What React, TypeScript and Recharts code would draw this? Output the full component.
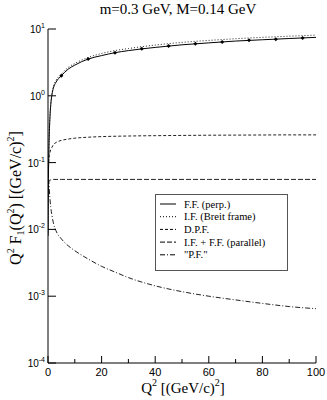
import React from 'react';
import { LineChart, Line, XAxis, YAxis } from 'recharts';

// Q^2 sample points [(GeV/c)^2]
const q2 = [0.02, 0.1, 0.2, 0.4, 0.7, 1, 1.5, 2, 3, 5, 7.5, 10, 15, 20, 25, 30, 40, 50, 60, 70, 80, 90, 100];
// F.F. (perp.)
const ffPerp = [0.008, 0.04, 0.08, 0.2, 0.45, 0.7, 1.05, 1.3, 1.6, 2.0, 2.5, 2.88, 3.55, 4.0, 4.42, 4.75, 5.3, 5.8, 6.2, 6.6, 6.9, 7.2, 7.5];
// I.F. (Breit frame)
const ifBreit = [0.009, 0.045, 0.09, 0.22, 0.48, 0.75, 1.1, 1.38, 1.7, 2.12, 2.65, 3.05, 3.75, 4.3, 4.75, 5.1, 5.75, 6.3, 6.75, 7.15, 7.5, 7.8, 8.1];
// D.P.F.
const dpf = [0.03, 0.06, 0.09, 0.12, 0.14, 0.155, 0.17, 0.185, 0.2, 0.215, 0.225, 0.232, 0.24, 0.245, 0.248, 0.25, 0.253, 0.255, 0.257, 0.258, 0.259, 0.26, 0.26];
// I.F. + F.F. (parallel)
const ifFfParallel = [0.03, 0.045, 0.05, 0.053, 0.054, 0.055, 0.055, 0.056, 0.056, 0.056, 0.056, 0.056, 0.056, 0.056, 0.056, 0.056, 0.056, 0.056, 0.056, 0.056, 0.056, 0.056, 0.056];
// "P.F."
const pf = [0.08, 0.07, 0.06, 0.045, 0.03, 0.022, 0.016, 0.0125, 0.0095, 0.0072, 0.0057, 0.0048, 0.0036, 0.0028, 0.0023, 0.0019, 0.00143, 0.00117, 0.001, 0.00088, 0.00078, 0.0007, 0.00065];
// markers on F.F. (perp.)
const markerQ2 = [5, 15, 25, 35, 45, 55, 65, 75, 85, 95];
const markerValues = [2.0, 3.55, 4.42, 5.05, 5.56, 6.0, 6.4, 6.76, 7.05, 7.35];

const xTicks = [0, 10, 20, 30, 40, 50, 60, 70, 80, 90, 100];
const yTicks = [1e-4, 1e-3, 1e-2, 1e-1, 1, 10];

const toRows = (ys: number[]) => q2.map((x, i) => ({ x, y: ys[i] }));
const markerRows = markerQ2.map((x, i) => ({ x, y: markerValues[i] }));

const SANS = 'Liberation Sans, Arial, sans-serif';
const SERIF = 'Liberation Serif, Times New Roman, serif';

const BottomTick = (props: any) => {
  const { x, y, payload } = props;
  const major = payload.value % 20 === 0;
  return (
    <g>
      <line x1={x} y1={y} x2={x} y2={y - (major ? 7 : 4)} stroke="#000" strokeWidth={1} />
      {major && (
        <text x={x} y={y + 13} textAnchor="middle" fontFamily={SANS} fontSize={11} fill="#000">
          {payload.value}
        </text>
      )}
    </g>
  );
};

const TopTick = (props: any) => {
  const { x, y, payload } = props;
  const major = payload.value % 20 === 0;
  return <line x1={x} y1={y} x2={x} y2={y + (major ? 7 : 4)} stroke="#000" strokeWidth={1} />;
};

const LeftTick = (props: any) => {
  const { x, y, payload } = props;
  const exp = Math.round(Math.log10(payload.value));
  return (
    <g>
      <line x1={x} y1={y} x2={x + 8} y2={y} stroke="#000" strokeWidth={1} />
      <text x={x - 3} y={y + 4} textAnchor="end" fontFamily={SANS} fontSize={10} fill="#000">
        10
        <tspan dy={-5} fontSize={7}>{String(exp)}</tspan>
      </text>
    </g>
  );
};

const RightTick = (props: any) => {
  const { x, y } = props;
  return <line x1={x} y1={y} x2={x - 8} y2={y} stroke="#000" strokeWidth={1} />;
};

const Diamond = (props: any) => {
  const { cx, cy } = props;
  if (cx == null || cy == null) return null;
  return <path d={`M${cx},${cy - 2}L${cx + 2},${cy}L${cx},${cy + 2}L${cx - 2},${cy}Z`} fill="#000" />;
};

const legendItems = [
  { label: 'F.F. (perp.)', dash: undefined as string | undefined },
  { label: 'I.F. (Breit frame)', dash: '1 2' },
  { label: 'D.P.F.', dash: '3 2' },
  { label: 'I.F. + F.F. (parallel)', dash: '5 2' },
  { label: '"P.F."', dash: '5 2 1 2' },
];

export default function App() {
  return (
    <div style={{ position: 'absolute', left: 0, top: 0, width: 327, height: 400, background: '#fff' }}>
      <LineChart width={327} height={400} margin={{ top: 29, right: 11, bottom: 0, left: 0 }}>
        <XAxis
          dataKey="x"
          type="number"
          domain={[0, 100]}
          ticks={xTicks}
          interval={0}
          height={37}
          tickSize={0}
          tickMargin={0}
          tick={<BottomTick />}
          stroke="#000"
          allowDataOverflow
        />
        <XAxis
          xAxisId="top"
          orientation="top"
          dataKey="x"
          type="number"
          domain={[0, 100]}
          ticks={xTicks}
          interval={0}
          height={0}
          tickSize={0}
          tickMargin={0}
          tick={<TopTick />}
          stroke="#000"
        />
        <YAxis
          type="number"
          scale="log"
          domain={[1e-4, 10]}
          ticks={yTicks}
          interval={0}
          width={48}
          tickSize={0}
          tickMargin={0}
          tick={<LeftTick />}
          stroke="#000"
          allowDataOverflow
        />
        <YAxis
          yAxisId="right"
          orientation="right"
          type="number"
          scale="log"
          domain={[1e-4, 10]}
          ticks={yTicks}
          interval={0}
          width={0}
          tickSize={0}
          tickMargin={0}
          tick={<RightTick />}
          stroke="#000"
          allowDataOverflow
        />
        <Line data={toRows(pf)} dataKey="y" type="monotone" stroke="#222" strokeWidth={1} strokeDasharray="5 2 1 2" dot={false} activeDot={false} isAnimationActive={false} />
        <Line data={toRows(ifFfParallel)} dataKey="y" type="monotone" stroke="#222" strokeWidth={1} strokeDasharray="5 2" dot={false} activeDot={false} isAnimationActive={false} />
        <Line data={toRows(dpf)} dataKey="y" type="monotone" stroke="#222" strokeWidth={1} strokeDasharray="3 2" dot={false} activeDot={false} isAnimationActive={false} />
        <Line data={toRows(ifBreit)} dataKey="y" type="monotone" stroke="#222" strokeWidth={1} strokeDasharray="1 2" dot={false} activeDot={false} isAnimationActive={false} />
        <Line data={toRows(ffPerp)} dataKey="y" type="monotone" stroke="#000" strokeWidth={1} dot={false} activeDot={false} isAnimationActive={false} />
        <Line data={markerRows} dataKey="y" type="monotone" stroke="none" dot={<Diamond />} activeDot={false} isAnimationActive={false} />
      </LineChart>
      <svg width={327} height={400} style={{ position: 'absolute', left: 0, top: 0, pointerEvents: 'none' }}>
        <text x={178} y={14} textAnchor="middle" fontFamily={SERIF} fontSize={15} fill="#000">
          m=0.3 GeV, M=0.14 GeV
        </text>
        <text x={183} y={393} textAnchor="middle" fontFamily={SERIF} fontSize={15} fill="#000">
          Q<tspan dy={-7} fontSize={10}>2</tspan>
          <tspan dy={7}> [(GeV/c)</tspan>
          <tspan dy={-7} fontSize={10}>2</tspan>
          <tspan dy={7}>]</tspan>
        </text>
        <text x={21} y={198} transform="rotate(-90 21 198)" textAnchor="middle" fontFamily={SERIF} fontSize={16} fill="#000">
          Q<tspan dy={-7} fontSize={10}>2</tspan>
          <tspan dy={7}> F</tspan>
          <tspan dy={3} fontSize={10}>1</tspan>
          <tspan dy={-3}>(Q</tspan>
          <tspan dy={-7} fontSize={10}>2</tspan>
          <tspan dy={7}>)  [(GeV/c)</tspan>
          <tspan dy={-7} fontSize={10}>2</tspan>
          <tspan dy={7}>]</tspan>
        </text>
        <rect x={155.5} y={194.5} width={132} height={76} fill="#fff" stroke="#555" strokeWidth={1} />
        {legendItems.map((it, i) => {
          const cy = 204 + i * 12.7;
          return (
            <g key={it.label}>
              <line x1={160} y1={cy} x2={176} y2={cy} stroke="#000" strokeWidth={1} strokeDasharray={it.dash} />
              <text x={184} y={cy + 3.5} fontFamily={SERIF} fontSize={10.5} fill="#000">
                {it.label}
              </text>
            </g>
          );
        })}
      </svg>
    </div>
  );
}
